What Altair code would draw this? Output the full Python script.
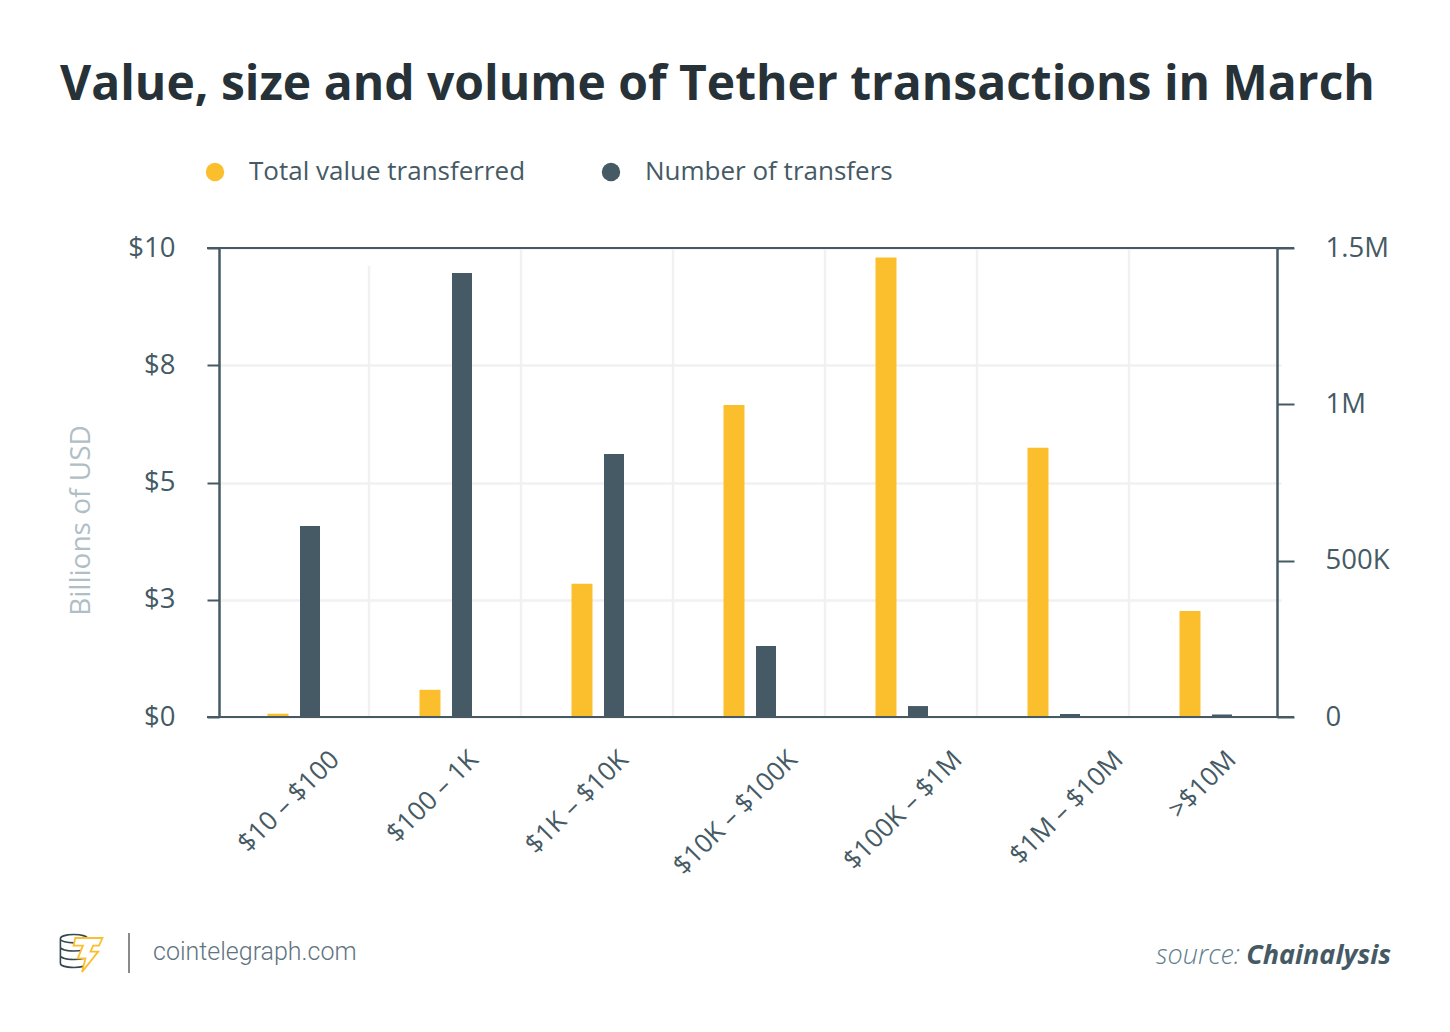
import altair as alt
import pandas as pd

categories = ["$10 – $100", "$100 – 1K", "$1K – $10K", "$10K – $100K", "$100K – $1M", "$1M – $10M", ">$10M"]
value_billions = [0.07, 0.58, 2.84, 6.65, 9.8, 5.74, 2.26]
transfers = [611000, 1420000, 841000, 227000, 35000, 9600, 8000]
grid_top = [10, 9.62, 10, 10, 10, 10, 10]
left_ticks = [0, 2.5, 5, 7.5, 10]
right_ticks = [0, 500000, 1000000, 1500000]
series = ["Total value transferred", "Number of transfers"]
colors = ["#FBBF2D", "#455A64"]

FONT = "Open Sans"
INK = "#455A64"
W, H = 1058, 469

df = pd.DataFrame({"cat": categories, "v": value_billions, "n": transfers, "top": grid_top})
one = alt.Data(values=[{"k": 1}])

xs = alt.Scale(domain=categories, range=[-2, 1062], paddingInner=0, paddingOuter=0)
lefty = alt.Scale(domain=[0, 10], nice=False)
righty = alt.Scale(domain=[0, 1500000], nice=False)
color = alt.Color("s:N", scale=alt.Scale(domain=series, range=colors), legend=alt.Legend(
    orient="none", legendX=-17, legendY=-89, direction="horizontal", title=None,
    symbolType="circle", symbolSize=340, symbolStrokeWidth=0, symbolOpacity=1,
    labelFont=FONT, labelFontSize=26, labelColor=INK, labelOffset=21, columnPadding=72, labelLimit=400))

label_shift = ("{'$10 – $100': 42, '$100 – 1K': 29, '$1K – $10K': 27, '$10K – $100K': 44, "
               "'$100K – $1M': 57, '$1M – $10M': 66, '>$10M': 27}[datum.value]")
x_axis = alt.Axis(title=None, domain=False, ticks=False, grid=False, labelAngle=-45, labelAlign="right",
                  labelBaseline="middle", labelPadding=38, labelFont=FONT, labelFontSize=26,
                  labelColor=INK, labelLimit=300, labelOffset=alt.expr(label_shift))
x_enc = alt.X("cat:N", sort=categories, scale=xs, axis=x_axis)

grid_v = alt.Chart(df).mark_rule(color="#F1F1F1", strokeWidth=2.5).transform_filter("datum.cat != '$10 – $100'").encode(
    x=alt.X("cat:N", sort=categories, scale=xs, axis=x_axis, bandPosition=0),
    y=alt.Y("top:Q", scale=lefty, axis=None), y2=alt.datum(0))

yellow = alt.Chart(df).transform_calculate(s="'Total value transferred'").mark_bar(width=21, xOffset=-15).encode(
    x=x_enc,
    y=alt.Y("v:Q", scale=lefty, axis=alt.Axis(
        title="Billions of USD", values=left_ticks, labelExpr="'$' + ceil(datum.value)",
        grid=True, gridColor="#F1F1F1", gridWidth=2.5, domainColor=INK, domainWidth=2.5,
        tickColor=INK, tickWidth=2, tickSize=12, labelPadding=32, labelFont=FONT, labelFontSize=27.5,
        labelColor=INK, titleFont=FONT, titleFontSize=28, titleFontWeight="normal", titleColor="#B0BEC5",
        titlePadding=32, titleY=272)),
    color=color)

dark = alt.Chart(df).transform_calculate(s="'Number of transfers'").mark_bar(width=20, xOffset=17).encode(
    x=x_enc,
    y=alt.Y("n:Q", scale=righty, axis=alt.Axis(
        orient="right", title=None, values=right_ticks, grid=False,
        labelExpr="datum.value == 0 ? '0' : datum.value >= 1000000 ? (datum.value / 1000000) + 'M' : (datum.value / 1000) + 'K'",
        domainColor=INK, domainWidth=2.5, tickColor=INK, tickWidth=2, tickSize=17, labelPadding=31,
        labelFont=FONT, labelFontSize=27.5, labelColor=INK)),
    color=color)

top_line = alt.Chart(one).mark_rule(color=INK, strokeWidth=2).encode(x=alt.value(-12), x2=alt.value(1075), y=alt.value(0))
bottom_line = alt.Chart(one).mark_rule(color=INK, strokeWidth=2).encode(x=alt.value(-12), x2=alt.value(1075), y=alt.value(H))

def txt(text, x, y, size, col, **kw):
    return alt.Chart(one).mark_text(text=text, fontSize=size, color=col, **kw).encode(x=alt.value(x), y=alt.value(y))

site = txt("cointelegraph.com", -66, 704, 25, "#5F7480", font="Roboto", fontWeight=300, align="left", baseline="middle")
src1 = txt("Chainalysis", 1172, 708, 27, INK, font=FONT, fontWeight="bold", fontStyle="italic", align="right", baseline="middle")
src2 = txt("source:", 1021, 708, 27, "#607D8B", font=FONT, fontWeight=300, fontStyle="italic", align="right", baseline="middle")
divider = alt.Chart(one).mark_rule(color="#8A8A8A", strokeWidth=2).encode(x=alt.value(-90), y=alt.value(685), y2=alt.value(725))

coins_path = ("M-0.8,-0.72 C-0.8,-1.05 0.8,-1.05 0.8,-0.72 C0.8,-0.4 -0.8,-0.4 -0.8,-0.72 Z "
              "M-0.8,-0.72 L-0.8,0.72 C-0.8,1.05 0.8,1.05 0.8,0.72 L0.8,-0.72 "
              "M-0.8,-0.25 C-0.8,0.08 0.8,0.08 0.8,-0.25 M-0.8,0.25 C-0.8,0.58 0.8,0.58 0.8,0.25")
bolt_path = ("M-0.75,-1 L0.85,-1 L0.65,-0.55 L0.3,-0.55 L0.15,-0.2 L0.6,-0.2 L-0.35,1 "
             "L-0.15,0.2 L-0.6,0.2 L-0.3,-0.55 L-0.85,-0.55 Z")
coins = alt.Chart(one).mark_point(shape=coins_path, size=1156, filled=False, stroke="#37474F", strokeWidth=1.6, opacity=1).encode(
    x=alt.value(-145), y=alt.value(703))
bolt = alt.Chart(one).mark_point(shape=bolt_path, size=1156, fill="white", filled=True, stroke="#FBBF2D", strokeWidth=1.8, opacity=1).encode(
    x=alt.value(-131), y=alt.value(707))

chart = alt.layer(
    grid_v, yellow, dark, top_line, bottom_line, divider, coins, bolt, site, src1, src2
).resolve_scale(y="independent", color="shared").properties(
    width=W, height=H,
    padding={"left": 211, "top": 240, "right": 160, "bottom": 280},
    autosize=alt.AutoSizeParams(type="none"),
    title=alt.TitleParams("Value, size and volume of Tether transactions in March", anchor="start", frame="group",
                          dx=-159, offset=49, font=FONT, fontSize=48, fontWeight="bold", color="#263238"),
).configure_view(stroke=None)

chart.save("out.html", embed_options={"renderer": "svg", "actions": False})
